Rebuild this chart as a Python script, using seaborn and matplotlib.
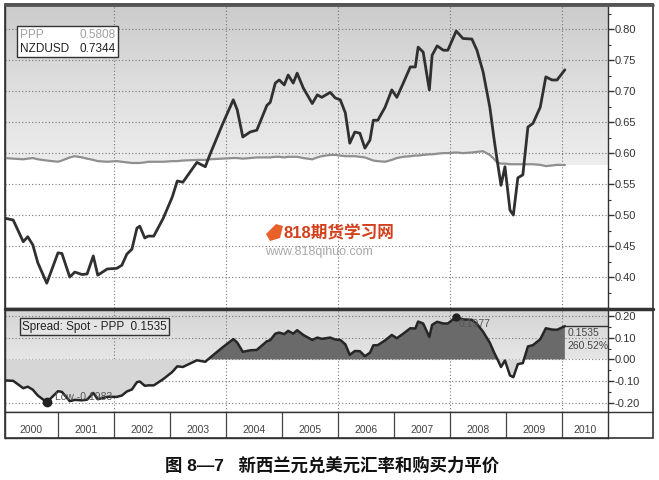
import numpy as np
import pandas as pd
import seaborn as sns
import matplotlib.pyplot as plt
from matplotlib.patches import Rectangle, Polygon
from matplotlib.ticker import MultipleLocator
from matplotlib.colors import LinearSegmentedColormap

# dates as fractional years
dates = [2000.05, 2000.20, 2000.38, 2000.46, 2000.55, 2000.64, 2000.80, 2001.00, 2001.07, 2001.21,
         2001.30, 2001.43, 2001.52, 2001.63, 2001.71, 2001.88, 2002.05, 2002.14, 2002.23, 2002.32,
         2002.41, 2002.46, 2002.55, 2002.61, 2002.71, 2002.88, 2003.04, 2003.13, 2003.23, 2003.48,
         2003.63, 2003.71, 2003.93, 2004.13, 2004.20, 2004.30, 2004.43, 2004.55, 2004.73, 2004.79,
         2004.88, 2004.95, 2005.04, 2005.11, 2005.20, 2005.27, 2005.38, 2005.54, 2005.63, 2005.71,
         2005.86, 2005.95, 2006.04, 2006.13, 2006.21, 2006.30, 2006.39, 2006.48, 2006.57, 2006.63,
         2006.71, 2006.84, 2006.96, 2007.05, 2007.16, 2007.29, 2007.38, 2007.43, 2007.52, 2007.63,
         2007.68, 2007.77, 2007.88, 2007.96, 2008.11, 2008.23, 2008.39, 2008.48, 2008.59, 2008.71,
         2008.79, 2008.84, 2008.91, 2008.98, 2009.07, 2009.13, 2009.21, 2009.30, 2009.39, 2009.48,
         2009.61, 2009.71, 2009.82, 2009.91, 2010.05]

nzdusd = [0.495, 0.492, 0.457, 0.465, 0.452, 0.423, 0.390, 0.439, 0.438, 0.400,
          0.408, 0.404, 0.405, 0.434, 0.403, 0.413, 0.414, 0.419, 0.437, 0.445,
          0.479, 0.482, 0.463, 0.466, 0.466, 0.495, 0.529, 0.555, 0.553, 0.585,
          0.578, 0.597, 0.645, 0.686, 0.670, 0.626, 0.634, 0.637, 0.677, 0.682,
          0.713, 0.718, 0.710, 0.726, 0.713, 0.729, 0.705, 0.680, 0.694, 0.690,
          0.698, 0.689, 0.686, 0.665, 0.616, 0.634, 0.632, 0.608, 0.621, 0.653,
          0.653, 0.674, 0.702, 0.690, 0.712, 0.739, 0.739, 0.771, 0.763, 0.702,
          0.758, 0.773, 0.766, 0.766, 0.797, 0.785, 0.784, 0.766, 0.731, 0.674,
          0.620, 0.589, 0.548, 0.578, 0.508, 0.500, 0.560, 0.565, 0.642, 0.648,
          0.674, 0.723, 0.718, 0.718, 0.7344]

ppp = [0.592, 0.591, 0.590, 0.591, 0.592, 0.590, 0.588, 0.586, 0.588, 0.593,
       0.595, 0.593, 0.591, 0.589, 0.587, 0.586, 0.587, 0.586, 0.585, 0.584,
       0.584, 0.584, 0.585, 0.586, 0.586, 0.586, 0.587, 0.587, 0.588, 0.589,
       0.589, 0.590, 0.591, 0.592, 0.592, 0.591, 0.592, 0.593, 0.593, 0.593,
       0.594, 0.594, 0.593, 0.594, 0.594, 0.594, 0.592, 0.590, 0.593, 0.595,
       0.597, 0.597, 0.596, 0.595, 0.595, 0.595, 0.594, 0.593, 0.590, 0.588,
       0.587, 0.586, 0.589, 0.592, 0.594, 0.595, 0.596, 0.596, 0.597, 0.598,
       0.598, 0.599, 0.600, 0.600, 0.601, 0.600, 0.601, 0.602, 0.603, 0.597,
       0.590, 0.585, 0.583, 0.583, 0.582, 0.582, 0.582, 0.582, 0.582, 0.582,
       0.581, 0.579, 0.580, 0.581, 0.5808]

years = list(range(2000, 2011))
top_ticks = [0.40, 0.45, 0.50, 0.55, 0.60, 0.65, 0.70, 0.75, 0.80]
bottom_ticks = [-0.20, -0.10, 0.00, 0.10, 0.20]

df = pd.DataFrame({'date': dates, 'nzdusd': nzdusd, 'ppp': ppp})
df['spread'] = df['nzdusd'] - df['ppp']

sns.set_style("white")
plt.rcParams['font.family'] = ['Liberation Sans', 'Noto Sans CJK SC', 'DejaVu Sans']

W, H = 659, 480
fig = plt.figure(figsize=(6.59, 4.80), dpi=100)
XMIN, XMAX = 2000.054, 2010.82


def fig_box(x0, y0, x1, y1):
    # pixel box -> figure fraction [left, bottom, width, height]
    return [x0 / W, 1 - y1 / H, (x1 - x0) / W, (y1 - y0) / H]


ax1 = fig.add_axes(fig_box(5, 5, 608, 308))
ax2 = fig.add_axes(fig_box(5, 309, 608, 412))
ax3 = fig.add_axes(fig_box(5, 412, 608, 438))

grid_kw = dict(color='#777777', linestyle=(0, (1, 2)), linewidth=0.8, zorder=1)
grad = np.linspace(0, 1, 256).reshape(-1, 1)
top_cmap = LinearSegmentedColormap.from_list('topbg', ['#ededed', '#dedede', '#cbcbcb'])
bot_cmap = LinearSegmentedColormap.from_list('botbg', ['#e6e6e6', '#d4d4d4'])

# ---- top panel ----
y1min, y1max = 0.35, 0.839
ax1.set_xlim(XMIN, XMAX)
ax1.set_ylim(y1min, y1max)
ext_x = list(df['date']) + [XMAX]
ext_p = list(df['ppp']) + [df['ppp'].iloc[-1]]
poly = ax1.fill_between(ext_x, ext_p, y1max, facecolor='none', edgecolor='none')
im = ax1.imshow(grad, extent=[XMIN, XMAX, 0.58, y1max], origin='lower', aspect='auto',
                cmap=top_cmap, zorder=0)
im.set_clip_path(poly.get_paths()[0], transform=ax1.transData)
for t in top_ticks:
    ax1.axhline(t, **grid_kw)
for yr in range(2002, 2011, 2):
    ax1.axvline(yr, **grid_kw)
sns.lineplot(data=df, x='date', y='ppp', ax=ax1, color='#8f8f8f', linewidth=1.6, zorder=3)
sns.lineplot(data=df, x='date', y='nzdusd', ax=ax1, color='#303030', linewidth=2.0, zorder=4)
ax1.set_xlim(XMIN, XMAX)
ax1.set_ylim(y1min, y1max)

# legend box
ax1.add_patch(Rectangle((0.0199, 0.828), 0.1675, 0.102, transform=ax1.transAxes,
                        facecolor='white', edgecolor='#333333', linewidth=1.0, zorder=6))
ax1.text(0.025, 0.901, 'PPP', transform=ax1.transAxes, fontsize=8.5, color='#a0a0a0',
         va='center', zorder=7)
ax1.text(0.184, 0.901, '0.5808', transform=ax1.transAxes, fontsize=8.5, color='#a0a0a0',
         va='center', ha='right', zorder=7)
ax1.text(0.025, 0.855, 'NZDUSD', transform=ax1.transAxes, fontsize=8.5, color='#222222',
         va='center', zorder=7)
ax1.text(0.184, 0.855, '0.7344', transform=ax1.transAxes, fontsize=8.5, color='#222222',
         va='center', ha='right', zorder=7)

# ---- bottom panel ----
y2min, y2max = -0.243, 0.233
ax2.set_xlim(XMIN, XMAX)
ax2.set_ylim(y2min, y2max)
ax2.imshow(grad, extent=[XMIN, XMAX, 0, y2max], origin='lower', aspect='auto',
           cmap=bot_cmap, zorder=0)
ax2.fill_between(df['date'], 0, df['spread'], where=df['spread'] > 0, interpolate=True,
                 color='#6a6a6a', linewidth=0, zorder=2)
ax2.fill_between(df['date'], df['spread'], 0, where=df['spread'] < 0, interpolate=True,
                 color='#d6d6d6', linewidth=0, zorder=2)
for t in bottom_ticks:
    ax2.axhline(t, **grid_kw)
for yr in range(2002, 2011, 2):
    ax2.axvline(yr, **grid_kw)
sns.lineplot(data=df, x='date', y='spread', ax=ax2, color='#262626', linewidth=1.8, zorder=4)
ax2.set_xlim(XMIN, XMAX)
ax2.set_ylim(y2min, y2max)

last = df.iloc[-1]
ax2.hlines(0.1535, last['date'], XMAX, color='#333333', linewidth=1.0, zorder=4)
lo = df.loc[df['spread'].idxmin()]
hi = df.loc[df['spread'].idxmax()]
ax2.plot(lo['date'], lo['spread'], 'o', color='#222222', markersize=6, zorder=5)
ax2.plot(hi['date'], hi['spread'], 'o', color='#222222', markersize=5, zorder=5)
ax2.text(lo['date'] + 0.15, -0.172, 'Low -0.1983', fontsize=7.5, color='#555555',
         va='center', zorder=6)
ax2.text(hi['date'] + 0.05, 0.163, '0.1977', fontsize=7.5, color='#555555', va='center', zorder=6)
ax2.text(last['date'] + 0.05, 0.12, '0.1535', fontsize=7.5, color='#444444', va='center', zorder=6)
ax2.text(last['date'] + 0.05, 0.06, '260.52%', fontsize=7.5, color='#444444', va='center', zorder=6)
ax2.text(0.028, 0.83, 'Spread: Spot - PPP  0.1535', transform=ax2.transAxes, fontsize=8.5,
         color='#222222', va='center', zorder=7,
         bbox=dict(boxstyle='square,pad=0.2', facecolor='#e4e4e4', edgecolor='#333333',
                   linewidth=1.0))

# right-side axes
for ax, ticks, minor in [(ax1, top_ticks, 0.025), (ax2, bottom_ticks, 0.05)]:
    ax.yaxis.tick_right()
    ax.set_yticks(ticks)
    ax.yaxis.set_minor_locator(MultipleLocator(minor))
    ax.set_yticklabels([f'{t:.2f}' for t in ticks], fontsize=8, color='#333333')
    ax.tick_params(axis='y', which='major', direction='out', length=4, width=1.0,
                   color='#333333', pad=1)
    ax.tick_params(axis='y', which='minor', direction='out', length=2, width=0.8,
                   color='#333333')
    ax.set_xticks([])
    ax.set_xlabel('')
    ax.set_ylabel('')
    for s in ax.spines.values():
        s.set_color('#333333')
        s.set_linewidth(1.0)

# ---- year band ----
ax3.set_xlim(XMIN, XMAX)
ax3.set_ylim(0, 1)
for yr in years[1:]:
    ax3.axvline(yr, color='#444444', linewidth=0.9)
for yr in years:
    lo_b = max(yr, XMIN)
    hi_b = min(yr + 1, XMAX)
    ax3.text((lo_b + hi_b) / 2, 0.32, str(yr), ha='center', va='center', fontsize=7.5,
             color='#444444')
ax3.set_xticks([])
ax3.set_yticks([])
for s in ax3.spines.values():
    s.set_color('#333333')
    s.set_linewidth(1.0)

# outer frame, right strip and panel separators
frame = fig.add_axes([0, 0, 1, 1], facecolor='none')
frame.set_xlim(0, W)
frame.set_ylim(H, 0)
frame.axis('off')
frame.add_patch(Rectangle((5, 4), 648, 434, fill=False, edgecolor='#333333', linewidth=1.2))
frame.plot([608, 653], [412, 412], color='#333333', linewidth=1.0)
frame.plot([5, 653], [5, 5], color='#555555', linewidth=2.0)
frame.plot([5, 653], [308.5, 308.5], color='#333333', linewidth=2.5)

# watermark
frame.add_patch(Polygon([[266, 234], [276, 224], [283, 226], [280, 238], [270, 241]],
                        closed=True, facecolor='#e8602a', edgecolor='none'))
frame.text(284, 233, '818期货学习网', fontsize=12, fontweight='bold', color='#d4401c',
           va='center', ha='left')
frame.text(265, 252, 'www.818qihuo.com', fontsize=9, color='#a8a8a8', va='center', ha='left')

# caption
frame.text(332, 465, '图 8—7   新西兰元兑美元汇率和购买力平价', fontsize=12.5, fontweight='bold',
           color='#111111', ha='center', va='center')

fig.savefig('out.png', dpi=100)
